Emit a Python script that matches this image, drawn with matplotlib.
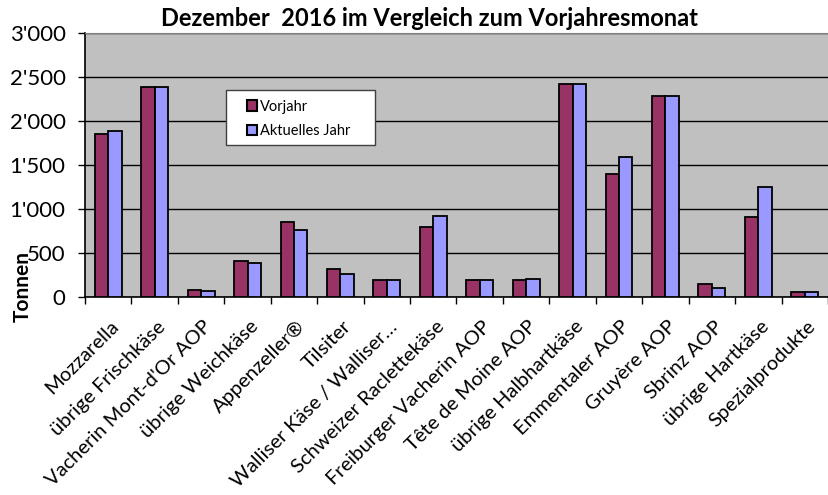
import numpy as np
import matplotlib
matplotlib.use("Agg")
import matplotlib.pyplot as plt
import matplotlib.transforms as mtransforms
from matplotlib.patches import Rectangle
from matplotlib.ticker import FuncFormatter, FixedLocator

plt.rcParams['font.family'] = ['Lato', 'DejaVu Sans']

categories = ["Mozzarella", "übrige Frischkäse", "Vacherin Mont-d'Or AOP",
              "übrige Weichkäse", "Appenzeller®", "Tilsiter",
              "Walliser Käse / Walliser…", "Schweizer Raclettekäse",
              "Freiburger Vacherin AOP", "Tête de Moine AOP",
              "übrige Halbhartkäse", "Emmentaler AOP", "Gruyère AOP",
              "Sbrinz AOP", "übrige Hartkäse", "Spezialprodukte"]
vorjahr = [1850, 2381, 76, 410, 847, 319, 190, 798, 197, 190, 2419, 1394, 2279, 152, 904, 57]
aktuell = [1891, 2389, 72, 384, 763, 266, 197, 915, 197, 205, 2419, 1591, 2279, 103, 1253, 61]
yticks = [0, 500, 1000, 1500, 2000, 2500, 3000]

fig = plt.figure(figsize=(8.29, 4.95), dpi=100)
ax = fig.add_axes([85 / 829, 1 - 297 / 495, 743 / 829, 264 / 495])
ax.set_facecolor('#C0C0C0')

x = np.arange(len(categories))
w = 0.29
ax.bar(x - w / 2, vorjahr, w, color='#993366', edgecolor='black', linewidth=1.3,
       label='Vorjahr', zorder=3)
ax.bar(x + w / 2, aktuell, w, color='#9999FF', edgecolor='black', linewidth=1.3,
       label='Aktuelles Jahr', zorder=3)

ax.set_xlim(-0.5, len(categories) - 0.5)
ax.set_ylim(0, 3000)
ax.set_yticks(yticks)
ax.yaxis.set_major_formatter(FuncFormatter(lambda v, p: f"{int(v):,}".replace(',', "'")))
ax.grid(axis='y', color='black', linewidth=1, zorder=1)
ax.tick_params(axis='y', labelsize=16, direction='out', length=5, width=1, pad=9)

ax.set_xticks(x)
ax.set_xticklabels(categories, rotation=45, ha='right', va='top',
                   rotation_mode='anchor', fontsize=14.5)
ax.tick_params(axis='x', which='major', length=0, pad=15)
offset = mtransforms.ScaledTranslation(2 / 100, 0, fig.dpi_scale_trans)
for lab in ax.get_xticklabels():
    lab.set_transform(lab.get_transform() + offset)
ax.xaxis.set_minor_locator(FixedLocator(np.arange(-0.5, len(categories), 1.0)))
ax.tick_params(axis='x', which='minor', direction='out', length=5, width=1)

for s in ['left', 'bottom']:
    ax.spines[s].set_color('black')
    ax.spines[s].set_linewidth(1.2)
ax.spines['top'].set_color('#808080')
ax.spines['right'].set_visible(False)

ax.set_ylabel('Tonnen', fontsize=15, fontweight='bold')
ax.yaxis.set_label_coords(-0.07, 0.04)

ax.set_title('Dezember  2016 im Vergleich zum Vorjahresmonat', fontsize=17,
             fontweight='bold', pad=5, x=0.464)

# legend box drawn separately (wider side padding than top/bottom)
ax.add_patch(Rectangle((0.1898, 0.576), 0.2005, 0.208, transform=ax.transAxes,
                       facecolor='white', edgecolor='#404040', linewidth=1,
                       zorder=4))
leg = ax.legend(loc='upper left', bbox_to_anchor=(0.218, 0.748), fontsize=10.5,
                frameon=False, handlelength=0.7, handleheight=0.7,
                handletextpad=0.2, borderpad=0, labelspacing=0.75,
                borderaxespad=0)
for h in leg.legend_handles:
    h.set_linewidth(1.5)
leg.set_zorder(5)

fig.savefig('out.png', dpi=100)
